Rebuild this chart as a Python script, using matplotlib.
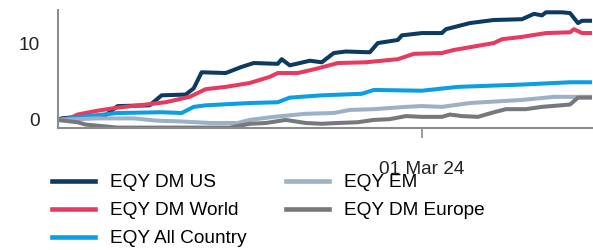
import matplotlib
matplotlib.use("Agg")
import matplotlib.pyplot as plt
import matplotlib.dates as mdates
import pandas as pd

plt.rcParams['font.family'] = ['Liberation Sans', 'DejaVu Sans']

# cumulative return (%)
us_dates = ["2023-12-01", "2023-12-02", "2023-12-06", "2023-12-13", "2023-12-16", "2023-12-24",
            "2023-12-27", "2024-01-02", "2024-01-04", "2024-01-06", "2024-01-12", "2024-01-16",
            "2024-01-19", "2024-01-25", "2024-01-26", "2024-01-28", "2024-02-02", "2024-02-05",
            "2024-02-08", "2024-02-11", "2024-02-17", "2024-02-19", "2024-02-24", "2024-02-25",
            "2024-03-01", "2024-03-06", "2024-03-07", "2024-03-13", "2024-03-19", "2024-03-26",
            "2024-03-29", "2024-03-31", "2024-04-01", "2024-04-05", "2024-04-07", "2024-04-09",
            "2024-04-10", "2024-04-12"]
us_vals = [0, 0.2, 0.4, 0.6, 1.8, 1.9, 3.2, 3.3, 4.1, 6.2, 6.1, 6.9, 7.4, 7.3, 7.9, 7.1, 7.7, 7.5,
           8.7, 8.9, 8.8, 10.0, 10.4, 11.0, 11.3, 11.3, 11.8, 12.6, 13.0, 13.1, 13.8, 13.6, 14.0,
           14.0, 13.9, 12.6, 12.9, 12.9]

world_dates = ["2023-12-01", "2023-12-04", "2023-12-06", "2023-12-11", "2023-12-16", "2023-12-23",
               "2023-12-28", "2024-01-03", "2024-01-07", "2024-01-12", "2024-01-18", "2024-01-23",
               "2024-01-25", "2024-01-30", "2024-02-04", "2024-02-09", "2024-02-16", "2024-02-24",
               "2024-02-28", "2024-03-06", "2024-03-09", "2024-03-19", "2024-03-21", "2024-03-26",
               "2024-04-01", "2024-04-07", "2024-04-08", "2024-04-10", "2024-04-12"]
world_vals = [0, 0.2, 0.7, 1.2, 1.6, 2.0, 2.3, 3.0, 4.0, 4.3, 4.8, 5.6, 6.1, 6.1, 6.7, 7.4, 7.5,
              7.9, 8.6, 8.7, 9.1, 10.0, 10.5, 10.8, 11.3, 11.4, 11.8, 11.3, 11.3]

allc_dates = ["2023-12-01", "2023-12-07", "2023-12-16", "2023-12-27", "2024-01-01", "2024-01-04",
              "2024-01-07", "2024-01-18", "2024-01-25", "2024-01-28", "2024-02-05", "2024-02-15",
              "2024-02-18", "2024-03-01", "2024-03-10", "2024-03-26", "2024-04-07", "2024-04-12"]
allc_vals = [0, 0.4, 0.9, 1.0, 0.9, 1.7, 1.9, 2.2, 2.3, 2.9, 3.2, 3.4, 3.9, 3.8, 4.3, 4.6, 4.9, 4.9]

em_dates = ["2023-12-01", "2023-12-11", "2023-12-20", "2023-12-26", "2024-01-01", "2024-01-08",
            "2024-01-15", "2024-01-18", "2024-01-24", "2024-02-01", "2024-02-08", "2024-02-12",
            "2024-02-18", "2024-02-26", "2024-03-01", "2024-03-06", "2024-03-13", "2024-03-26",
            "2024-04-03", "2024-04-12"]
em_vals = [0, 0.2, 0.2, -0.1, -0.2, -0.4, -0.4, 0.0, 0.4, 0.8, 0.9, 1.3, 1.4, 1.7, 1.8, 1.7, 2.2,
           2.6, 3.0, 3.0]

eur_dates = ["2023-12-01", "2023-12-06", "2023-12-08", "2023-12-16", "2024-01-13", "2024-01-18",
             "2024-01-22", "2024-01-27", "2024-02-01", "2024-02-05", "2024-02-09", "2024-02-14",
             "2024-02-18", "2024-02-22", "2024-02-26", "2024-03-01", "2024-03-06", "2024-03-08",
             "2024-03-11", "2024-03-15", "2024-03-19", "2024-03-22", "2024-03-27", "2024-03-31",
             "2024-04-07", "2024-04-09", "2024-04-12"]
eur_vals = [0, -0.3, -0.6, -1.0, -1.0, -0.5, -0.4, 0.0, -0.4, -0.5, -0.4, -0.3, 0.0, 0.1, 0.5, 0.4,
            0.4, 0.7, 0.5, 0.4, 1.0, 1.4, 1.4, 1.7, 2.0, 2.9, 2.9]

series = [
    ("EQY DM US", us_dates, us_vals, "#0c3a60"),
    ("EQY DM World", world_dates, world_vals, "#e63a5e"),
    ("EQY All Country", allc_dates, allc_vals, "#0a9fe0"),
    ("EQY EM", em_dates, em_vals, "#9cb0c6"),
    ("EQY DM Europe", eur_dates, eur_vals, "#77787b"),
]

fig = plt.figure(figsize=(5.93, 2.5), dpi=100)
ax = fig.add_axes([0.097, 0.488, 0.903, 0.472])

for name, d, v, c in series:
    ax.plot(pd.to_datetime(d), v, color=c, lw=2.9, label=name, solid_joinstyle='round')

start = pd.Timestamp("2023-12-01")
ax.set_xlim(start, start + pd.Timedelta(days=133.75))
ax.set_ylim(-1.05, 14.3)

ax.set_yticks([0, 10])
ax.set_xticks([pd.Timestamp("2024-03-01")])
ax.xaxis.set_major_formatter(mdates.DateFormatter("%d %b %y"))

for s in ["top", "right"]:
    ax.spines[s].set_visible(False)
for s in ["left", "bottom"]:
    ax.spines[s].set_color("#8c8c8c")
    ax.spines[s].set_linewidth(1.5)

ax.tick_params(axis="y", length=0, pad=13, labelsize=13.7, labelcolor="#222222")
ax.tick_params(axis="x", length=7, width=1.2, color="#8c8c8c", pad=17, labelsize=13.7,
               labelcolor="#222222")

fig.legend(loc="upper left", bbox_to_anchor=(52 / 593, 1 - 174 / 250), ncol=2, frameon=False,
           fontsize=13.7, handlelength=2.26, handletextpad=0.79, labelspacing=0.56,
           columnspacing=2.05, borderaxespad=0, borderpad=0)

for line in fig.legends[0].get_lines():
    line.set_linewidth(3.3)

fig.savefig("out.png", dpi=100)
